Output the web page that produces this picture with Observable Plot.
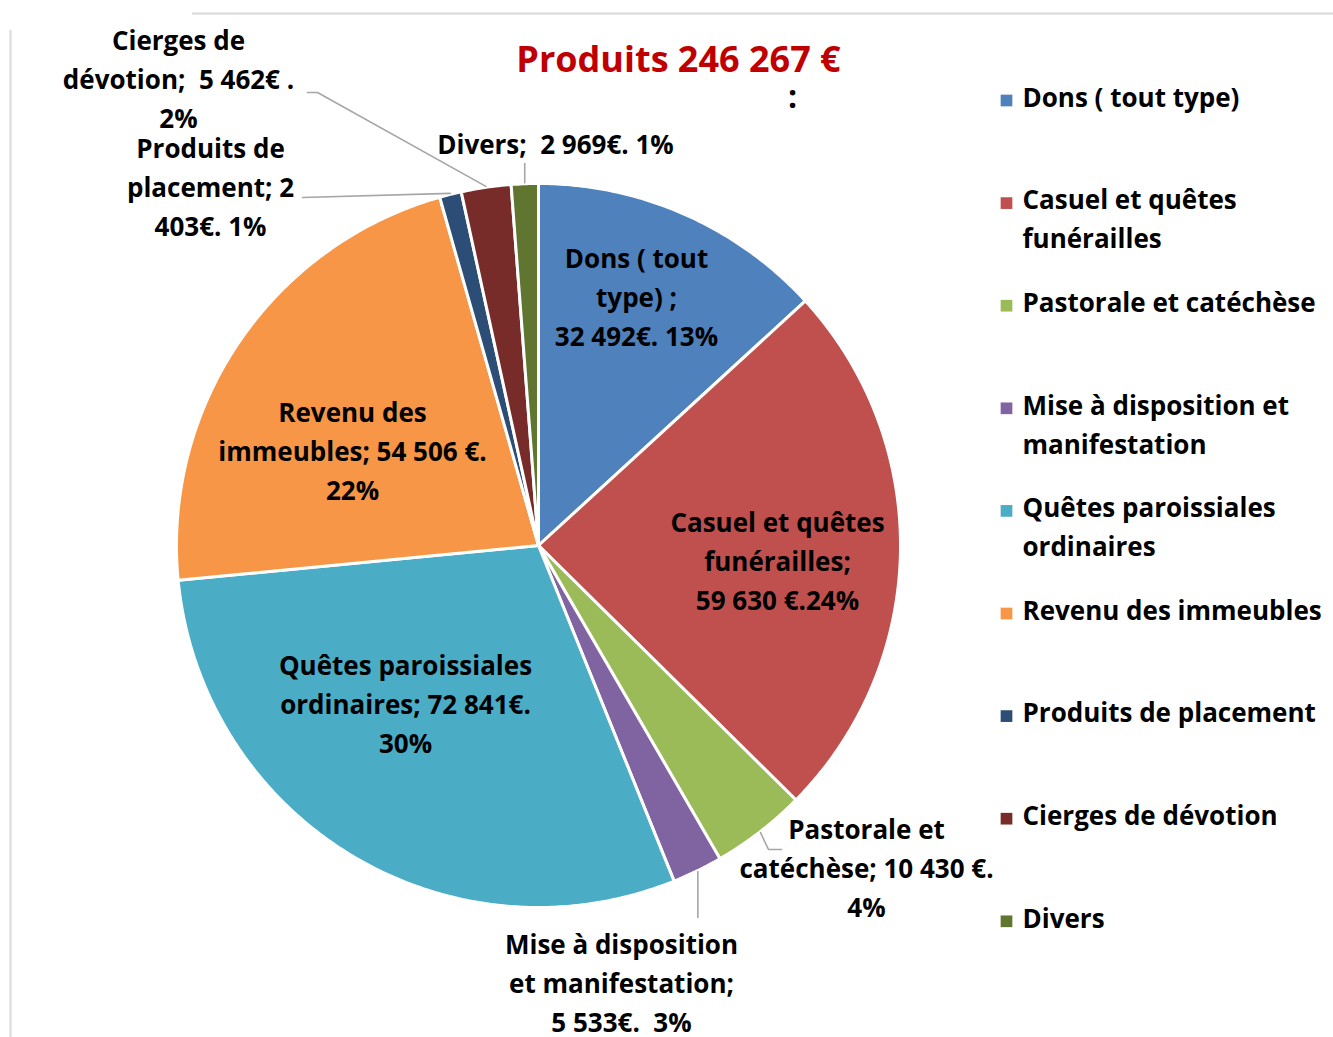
<!DOCTYPE html>
<html><head><meta charset="utf-8">
<script src="https://cdn.jsdelivr.net/npm/d3@7"></script>
<script src="https://cdn.jsdelivr.net/npm/@observablehq/plot@0.6"></script>
<style>
html,body{margin:0;padding:0;background:#fff;}
svg text{white-space:pre;}
</style></head><body><div id="chart"></div>
<script>
// ---- data ----
const categories = ["Dons ( tout type)", "Casuel et quêtes funérailles", "Pastorale et catéchèse",
  "Mise à disposition et manifestation", "Quêtes paroissiales ordinaires", "Revenu des immeubles",
  "Produits de placement", "Cierges de dévotion", "Divers"];
const values = [32492, 59630, 10430, 5533, 72841, 54506, 2403, 5462, 2969];
const sliceLabels = [
  "Dons ( tout\ntype) ;\n32 492€. 13%",
  "Casuel et quêtes\nfunérailles;\n59 630 €.24%",
  "Pastorale et\ncatéchèse; 10 430 €.\n4%",
  "Mise à disposition\net manifestation;\n5 533€.  3%",
  "Quêtes paroissiales\nordinaires; 72 841€.\n30%",
  "Revenu des\nimmeubles; 54 506 €.\n22%",
  "Produits de\nplacement; 2\n403€. 1%",
  "Cierges de\ndévotion;  5 462€ .\n2%",
  "Divers;  2 969€. 1%"
];
const legendLabels = [
  ["Dons ( tout type)"], ["Casuel et quêtes", "funérailles"], ["Pastorale et catéchèse"],
  ["Mise à disposition et", "manifestation"], ["Quêtes paroissiales", "ordinaires"], ["Revenu des immeubles"],
  ["Produits de placement"], ["Cierges de dévotion"], ["Divers"]
];
const title = "Produits 246 267 €";
const palette = ["#4F81BD", "#C0504D", "#9BBB59", "#8064A2", "#4BACC6", "#F79646", "#2C4D75", "#772C2A", "#5F7530"];

// ---- layout ----
const W = 1333, H = 1037, CX = 538, CY = 545, R = 362;
const FONT = "'Open Sans', Lato, sans-serif";
const FS = 26, DY = -3;
const labelPos = [[636, 297], [777, 561], [866, 868], [621, 983], [405, 704], [352, 451], [210, 187], [178, 79], [555, 144]];
// leader elbows (from label side toward the slice)
const leaderPts = [null, null, [[781, 849], [768, 849]], [[697, 917]], null, null, [[302, 197]], [[307, 92], [317, 92]], [[524, 163]]];
const legendX = 1022, legendY0 = 98, legendStep = 102.6, lineH = 39;

// ---- computed geometry ----
const arcs = d3.pie().sort(null).value(d => d)(values);
const pt = (a, r) => [CX + r * Math.sin(a), CY - r * Math.cos(a)];
const slicePts = [];
arcs.forEach((a, i) => {
  slicePts.push({k: i, x: CX, y: CY});
  const n = Math.max(2, Math.ceil((a.endAngle - a.startAngle) / (Math.PI / 360)));
  for (let j = 0; j <= n; j++) {
    const [x, y] = pt(a.startAngle + (a.endAngle - a.startAngle) * j / n, R);
    slicePts.push({k: i, x, y});
  }
});
const leaders = [];
arcs.forEach((a, i) => {
  if (!leaderPts[i]) return;
  const mid = (a.startAngle + a.endAngle) / 2;
  const [ex, ey] = pt(mid, R + 1);
  const pts = leaderPts[i].slice();
  if (i === 3 || i === 8) pts[0] = [ex, pts[0][1]];
  pts.forEach(p => leaders.push({k: i, x: p[0], y: p[1]}));
  leaders.push({k: i, x: ex, y: ey});
});
const labels = sliceLabels.map((t, i) => ({t, x: labelPos[i][0], y: labelPos[i][1]}));
const legendRows = [];
const legendSwatches = categories.map((c, i) => ({k: i, x: legendX - 16, y: legendY0 + i * legendStep + 2}));
legendLabels.forEach((lines, i) => lines.forEach((t, j) => legendRows.push({t, x: legendX, y: legendY0 + i * legendStep + j * lineH})));

const chart = Plot.plot({
  width: W, height: H, margin: 0,
  x: {domain: [0, W], range: [0, W], axis: null},
  y: {domain: [0, H], range: [0, H], axis: null},
  color: {type: "ordinal", domain: d3.range(categories.length), range: palette},
  style: {background: "white", fontFamily: FONT},
  marks: [
    Plot.ruleX([10], {y1: 30, y2: H, stroke: "#d9d9d9", strokeWidth: 2}),
    Plot.ruleY([13], {x1: 192, x2: W, stroke: "#d9d9d9", strokeWidth: 2}),
    Plot.line(slicePts, {x: "x", y: "y", z: "k", fill: "k", stroke: "white", strokeWidth: 3, curve: "linear-closed", strokeLinejoin: "round"}),
    Plot.line(leaders, {x: "x", y: "y", z: "k", stroke: "#A6A6A6", strokeWidth: 1.6}),
    Plot.text(labels, {x: "x", y: "y", dy: DY, text: "t", fontSize: FS, fontWeight: "bold", fill: "black", lineHeight: 39 / FS, lineAnchor: "middle", textAnchor: "middle", fontFamily: FONT}),
    Plot.dot(legendSwatches, {x: "x", y: "y", fill: "k", symbol: "square", r: 6.6, stroke: null}),
    Plot.text(legendRows, {x: "x", y: "y", text: "t", fontSize: FS, fontWeight: "bold", fill: "black", textAnchor: "start", lineAnchor: "middle", fontFamily: FONT}),
    Plot.text([title], {x: 678, y: 60, text: d => d, fontSize: 36, fontWeight: "bold", fill: "#C00000", textAnchor: "middle", lineAnchor: "middle", fontFamily: FONT}),
    Plot.text([":"], {x: 792, y: 97, text: d => d, fontSize: 32, fontWeight: "bold", fill: "black", textAnchor: "middle", lineAnchor: "middle", fontFamily: FONT})
  ]
});
document.getElementById("chart").append(chart);
</script>
</body></html>
